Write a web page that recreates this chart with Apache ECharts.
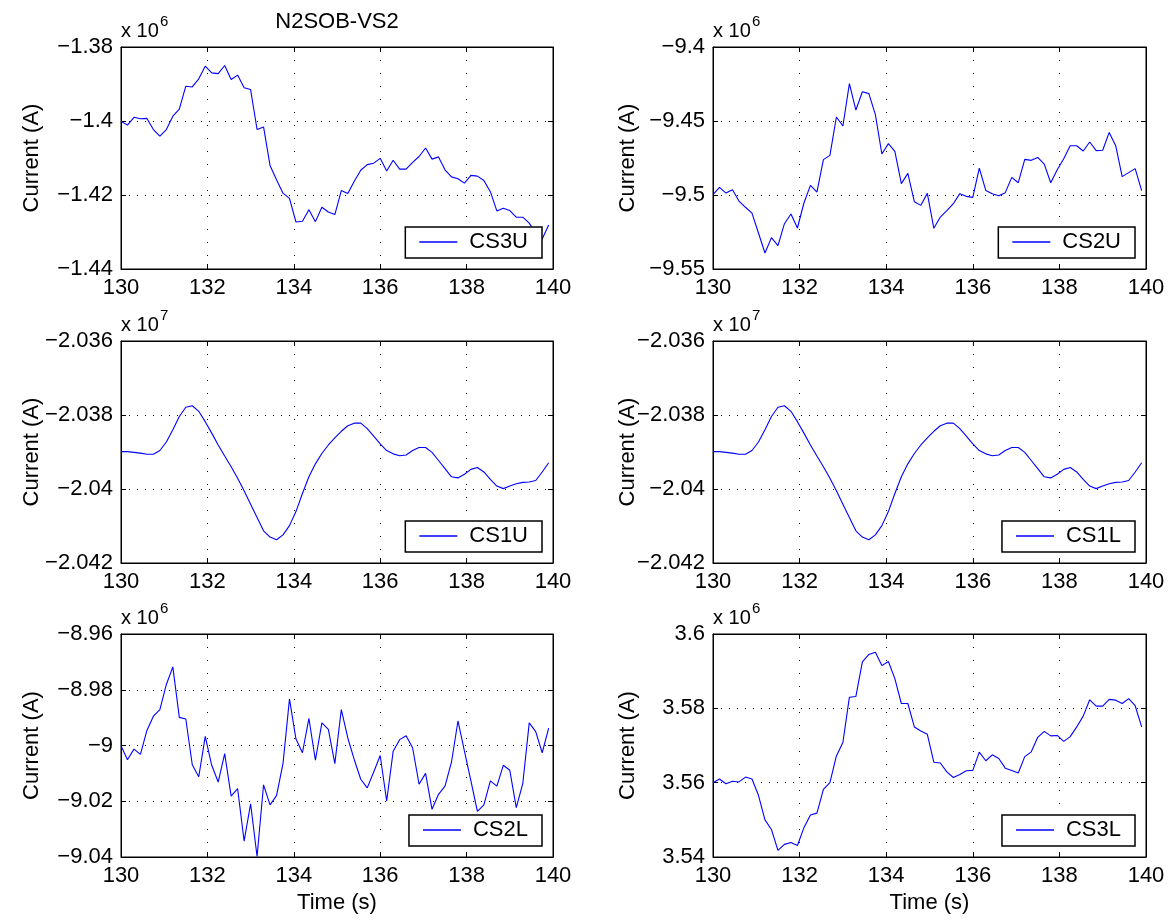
<!DOCTYPE html>
<html>
<head>
<meta charset="utf-8">
<script src="https://cdn.jsdelivr.net/npm/echarts@6/dist/echarts.min.js"></script>
<style>
html,body{margin:0;padding:0;background:#fff;}
#chart{width:1174px;height:922px;}
</style>
</head>
<body>
<div id="chart"></div>
<script>
// ---------- DATA ----------
const time = [130, 130.15, 130.3, 130.45, 130.6, 130.75, 130.9, 131.05, 131.2, 131.35, 131.5, 131.65, 131.8, 131.95,
  132.1, 132.25, 132.4, 132.55, 132.7, 132.85, 133, 133.15, 133.3, 133.45, 133.6, 133.75, 133.9, 134.05, 134.2,
  134.35, 134.5, 134.65, 134.8, 134.95, 135.1, 135.25, 135.4, 135.55, 135.7, 135.85, 136, 136.15, 136.3, 136.45,
  136.6, 136.75, 136.9, 137.05, 137.2, 137.35, 137.5, 137.65, 137.8, 137.95, 138.1, 138.25, 138.4, 138.55, 138.7,
  138.85, 139, 139.15, 139.3, 139.45, 139.6, 139.75, 139.9];

// CS3U, current (A) x 10^6
const cs3u = [-1.4001, -1.4011, -1.3990, -1.3994, -1.3993, -1.4023, -1.4041, -1.4023, -1.3987, -1.3968,
  -1.3906, -1.3908, -1.3886, -1.3852, -1.3870, -1.3872, -1.3850, -1.3888, -1.3876, -1.3910,
  -1.3915, -1.4023, -1.4016, -1.4120, -1.4159, -1.4195, -1.4209, -1.4273, -1.4271, -1.4240,
  -1.4272, -1.4233, -1.4246, -1.4253, -1.4188, -1.4196, -1.4163, -1.4133, -1.4118, -1.4114,
  -1.4101, -1.4135, -1.4106, -1.4130, -1.4130, -1.4112, -1.4096, -1.4073, -1.4103, -1.4097,
  -1.4132, -1.4151, -1.4156, -1.4168, -1.4147, -1.4149, -1.4161, -1.4191, -1.4243, -1.4236,
  -1.4242, -1.4260, -1.4260, -1.4276, -1.4303, -1.4319, -1.4281];

// CS2U, current (A) x 10^6
const cs2u = [-9.4998, -9.4948, -9.4987, -9.4964, -9.5041, -9.5083, -9.5122, -9.5257, -9.5392, -9.5288,
  -9.5342, -9.5194, -9.5128, -9.5223, -9.5054, -9.4935, -9.4980, -9.4761, -9.4732, -9.4473,
  -9.4534, -9.4248, -9.4426, -9.4302, -9.4315, -9.4457, -9.4723, -9.4653, -9.4705, -9.4923,
  -9.4854, -9.5045, -9.5070, -9.4989, -9.5225, -9.5149, -9.5106, -9.5059, -9.4991, -9.5009,
  -9.5016, -9.4818, -9.4969, -9.4991, -9.5005, -9.4984, -9.4881, -9.4917, -9.4759, -9.4766,
  -9.4746, -9.4791, -9.4917, -9.4829, -9.4755, -9.4667, -9.4667, -9.4703, -9.4642, -9.4700,
  -9.4698, -9.4577, -9.4667, -9.4876, -9.4849, -9.4822, -9.4971];

// CS1U, current (A) x 10^7
const cs1u = [-2.03899, -2.03899, -2.03901, -2.03903, -2.03906, -2.03906, -2.03896, -2.03873, -2.03840, -2.03804,
  -2.03779, -2.03775, -2.03790, -2.03818, -2.03849, -2.03881, -2.03911, -2.03940, -2.03971, -2.04005,
  -2.04041, -2.04077, -2.04113, -2.04130, -2.04137, -2.04124, -2.04099, -2.04061, -2.04012, -2.03967,
  -2.03932, -2.03904, -2.03881, -2.03862, -2.03844, -2.03829, -2.03822, -2.03822, -2.03837, -2.03857,
  -2.03878, -2.03896, -2.03905, -2.03910, -2.03908, -2.03896, -2.03888, -2.03888, -2.03901, -2.03923,
  -2.03945, -2.03967, -2.03970, -2.03960, -2.03947, -2.03942, -2.03954, -2.03974, -2.03992, -2.03999,
  -2.03992, -2.03986, -2.03982, -2.03981, -2.03977, -2.03954, -2.03929];

// CS1L, current (A) x 10^7
const cs1l = [-2.03899, -2.03899, -2.03901, -2.03903, -2.03906, -2.03906, -2.03896, -2.03873, -2.03840, -2.03804,
  -2.03779, -2.03775, -2.03790, -2.03818, -2.03849, -2.03881, -2.03911, -2.03940, -2.03971, -2.04005,
  -2.04041, -2.04077, -2.04113, -2.04130, -2.04137, -2.04124, -2.04099, -2.04061, -2.04012, -2.03967,
  -2.03932, -2.03904, -2.03881, -2.03862, -2.03844, -2.03829, -2.03822, -2.03822, -2.03837, -2.03857,
  -2.03878, -2.03896, -2.03905, -2.03910, -2.03908, -2.03896, -2.03888, -2.03888, -2.03901, -2.03923,
  -2.03945, -2.03967, -2.03970, -2.03960, -2.03947, -2.03942, -2.03954, -2.03974, -2.03992, -2.03999,
  -2.03992, -2.03986, -2.03982, -2.03981, -2.03977, -2.03954, -2.03929];

// CS2L, current (A) x 10^6
const cs2l = [-9.0001, -9.0051, -9.0013, -9.0032, -8.9946, -8.9895, -8.9871, -8.9781, -8.9718, -8.9899,
  -8.9905, -9.0069, -9.0112, -8.9967, -9.0071, -9.0131, -9.0029, -9.0182, -9.0155, -9.0343,
  -9.0209, -9.0398, -9.0141, -9.0213, -9.0180, -9.0065, -8.9833, -8.9977, -9.0026, -8.9903,
  -9.0053, -8.9919, -8.9942, -9.0065, -8.9871, -8.9973, -9.0051, -9.0121, -9.0152, -9.0095,
  -9.0036, -9.0199, -9.0021, -8.9979, -8.9965, -9.0008, -9.0139, -9.0100, -9.0229, -9.0175,
  -9.0146, -9.0060, -8.9912, -9.0020, -9.0127, -9.0236, -9.0213, -9.0127, -9.0146, -9.0071,
  -9.0089, -9.0223, -9.0137, -8.9919, -8.9950, -9.0026, -8.9938];

// CS3L, current (A) x 10^6
const cs3l = [3.5600, 3.5610, 3.5597, 3.5604, 3.5602, 3.5615, 3.5610, 3.5566, 3.5500, 3.5474,
  3.5418, 3.5434, 3.5439, 3.5431, 3.5479, 3.5513, 3.5518, 3.5582, 3.5600, 3.5672,
  3.5708, 3.5830, 3.5832, 3.5925, 3.5945, 3.5951, 3.5915, 3.5926, 3.5880, 3.5813,
  3.5813, 3.5750, 3.5739, 3.5730, 3.5655, 3.5653, 3.5629, 3.5614, 3.5622, 3.5632,
  3.5633, 3.5682, 3.5659, 3.5675, 3.5665, 3.5639, 3.5633, 3.5626, 3.5670, 3.5683,
  3.5722, 3.5738, 3.5726, 3.5727, 3.5711, 3.5724, 3.5750, 3.5779, 3.5823, 3.5806,
  3.5806, 3.5824, 3.5822, 3.5813, 3.5826, 3.5807, 3.5750];

const seriesNames = ['CS3U', 'CS2U', 'CS1U', 'CS1L', 'CS2L', 'CS3L'];
const seriesValues = [cs3u, cs2u, cs1u, cs1l, cs2l, cs3l];
const yMin = [-1.44, -9.55, -2.042, -2.042, -9.04, 3.54];
const yMax = [-1.38, -9.40, -2.036, -2.036, -8.96, 3.60];
const yStep = [0.02, 0.05, 0.002, 0.002, 0.02, 0.02];
const exponents = ['6', '6', '7', '7', '6', '6'];
const xMin = 130, xMax = 140, xStep = 2;
const titleText = 'N2SOB-VS2';
const yLabelText = 'Current (A)';
const xLabelText = 'Time (s)';

// ---------- LAYOUT ----------
const W = 1174, H = 922;
const colLeft = [121, 713];
const colWidth = [432, 433];
const rowTop = [47, 341, 634];
const rowHeight = [222, 222, 223];
const FONT = '"Liberation Sans", Helvetica, Arial, sans-serif';

function fmt(v) {
  const s = String(+Number(v).toFixed(6));
  return s.replace('-', '\u2212');
}

const grids = [], xAxes = [], yAxes = [], series = [], legends = [], graphics = [];

for (let p = 0; p < 6; p++) {
  const c = p % 2, r = Math.floor(p / 2);
  const L = colLeft[c], Tp = rowTop[r], Wd = colWidth[c], Ht = rowHeight[r];
  grids.push({
    left: L, top: Tp, width: Wd, height: Ht,
    show: true, borderColor: '#000', borderWidth: 1, backgroundColor: '#fff',
    containLabel: false, outerBoundsMode: 'none'
  });
  const tickStyle = {show: true, inside: true, length: 5, lineStyle: {color: '#000', width: 1}};
  xAxes.push({
    type: 'value', gridIndex: p, min: xMin, max: xMax, interval: xStep, position: 'bottom',
    axisLine: {show: true, onZero: false, lineStyle: {color: '#000', width: 1}},
    axisTick: tickStyle,
    axisLabel: {show: true, margin: 8, color: '#000', fontSize: 22, fontFamily: FONT, formatter: fmt,
      showMinLabel: true, showMaxLabel: true, hideOverlap: false},
    splitLine: {show: true, lineStyle: {color: '#000', width: 1, type: [1, 12]}}
  });
  xAxes.push({
    type: 'value', gridIndex: p, min: xMin, max: xMax, interval: xStep, position: 'top',
    axisLine: {show: true, onZero: false, lineStyle: {color: '#000', width: 1}},
    axisTick: tickStyle, axisLabel: {show: false}, splitLine: {show: false}
  });
  yAxes.push({
    type: 'value', gridIndex: p, min: yMin[p], max: yMax[p], interval: yStep[p], position: 'left',
    axisLine: {show: true, onZero: false, lineStyle: {color: '#000', width: 1}},
    axisTick: tickStyle,
    axisLabel: {show: true, margin: 8, color: '#000', fontSize: 22, fontFamily: FONT, formatter: fmt,
      showMinLabel: true, showMaxLabel: true, hideOverlap: false},
    splitLine: {show: true, lineStyle: {color: '#000', width: 1, type: [1, 7]}}
  });
  yAxes.push({
    type: 'value', gridIndex: p, min: yMin[p], max: yMax[p], interval: yStep[p], position: 'right',
    axisLine: {show: true, onZero: false, lineStyle: {color: '#000', width: 1}},
    axisTick: tickStyle, axisLabel: {show: false}, splitLine: {show: false}
  });
  const vals = seriesValues[p];
  series.push({
    name: seriesNames[p], type: 'line', xAxisIndex: 2 * p, yAxisIndex: 2 * p,
    data: time.map((t, i) => [t, vals[i]]),
    symbol: 'none', showSymbol: false, smooth: false,
    lineStyle: {color: '#0000ff', width: 1.1},
    itemStyle: {color: '#0000ff'},
    clip: true, animation: false
  });
  // legend box, bottom-right inside the axes
  legends.push({
    data: [seriesNames[p]],
    right: W - (L + Wd - 11), bottom: H - (Tp + Ht - 11),
    orient: 'horizontal', selectedMode: false,
    icon: 'rect', itemWidth: 38, itemHeight: 1.4,
    padding: [4, 14, 5, 14],
    backgroundColor: '#fff', borderColor: '#000', borderWidth: 1.5, borderRadius: 0,
    textStyle: {color: '#000', fontSize: 22, fontFamily: FONT, padding: [0, 0, 0, 7]}
  });
  // y-axis title
  const ycx = c === 0 ? 32 : 628;
  graphics.push({
    type: 'text', x: ycx, y: Tp + Ht / 2, rotation: Math.PI / 2,
    style: {text: yLabelText, font: '22px ' + FONT, fill: '#000',
      textAlign: 'center', textVerticalAlign: 'middle', align: 'center', verticalAlign: 'middle'}
  });
  // exponent label "x 10^n"
  graphics.push({
    type: 'text', x: L, y: Tp - 16,
    style: {text: 'x 10', font: '20px ' + FONT, fill: '#000',
      textAlign: 'left', textVerticalAlign: 'middle', align: 'left', verticalAlign: 'middle'}
  });
  graphics.push({
    type: 'text', x: L + 39, y: Tp - 25,
    style: {text: exponents[p], font: '15px ' + FONT, fill: '#000',
      textAlign: 'left', textVerticalAlign: 'middle', align: 'left', verticalAlign: 'middle'}
  });
  if (r === 2) {
    graphics.push({
      type: 'text', x: L + Wd / 2, y: 903,
      style: {text: xLabelText, font: '22px ' + FONT, fill: '#000',
        textAlign: 'center', textVerticalAlign: 'middle', align: 'center', verticalAlign: 'middle'}
    });
  }
}
graphics.push({
  type: 'text', x: colLeft[0] + colWidth[0] / 2, y: 22,
  style: {text: titleText, font: '22px ' + FONT, fill: '#000',
    textAlign: 'center', textVerticalAlign: 'middle', align: 'center', verticalAlign: 'middle'}
});

const chart = echarts.init(document.getElementById('chart'), null, {renderer: 'canvas', width: W, height: H});
chart.setOption({
  animation: false,
  backgroundColor: '#fff',
  textStyle: {fontFamily: FONT},
  grid: grids,
  xAxis: xAxes,
  yAxis: yAxes,
  legend: legends,
  series: series,
  graphic: graphics
});
</script>
</body>
</html>
